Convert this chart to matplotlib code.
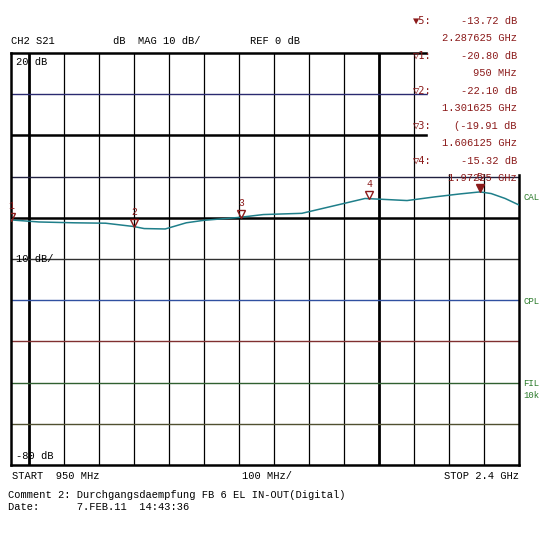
import matplotlib.pyplot as plt

freq_mhz = [950, 1030, 1130, 1220, 1300, 1330, 1390, 1450, 1500, 1600, 1670,
            1780, 1860, 1960, 2010, 2080, 2160, 2230, 2288, 2320, 2360, 2400]
s21_db = [-20.5, -21.0, -21.2, -21.3, -22.1, -22.6, -22.7, -21.2, -20.6, -19.9, -19.2,
          -18.9, -17.3, -15.3, -15.5, -15.8, -14.9, -14.2, -13.7, -14.1, -15.3, -16.9]

marker_freq = [950, 1301.625, 1606.125, 1972.25, 2287.625]
marker_db = [-20.80, -22.10, -19.91, -15.32, -13.72]
marker_names = ['1', '2', '3', '4', '5']

vgrid = [1000, 1100, 1200, 1300, 1400, 1500, 1600, 1700, 1800, 1900, 2000, 2100, 2200, 2300]
hgrid = [10, 0, -10, -20, -30, -40, -50, -60, -70]
hcolors = ['#2a2a70', 'black', '#202040', 'black', '#303030', '#3050a0', '#803030', '#306030', '#505030']

mono = 'Liberation Mono'
red = '#8b1a1a'

fig = plt.figure(figsize=(5.5, 5.5), dpi=100)
ax = fig.add_axes([0.02, 0.1545, 0.924, 0.749])
ax.set_xlim(950, 2400)
ax.set_ylim(-80, 20)
ax.set_xticks([])
ax.set_yticks([])
for s in ax.spines.values():
    s.set_linewidth(1.8)

for f in vgrid:
    lw = 2.0 if f in (1000, 2000) else 0.9
    ax.axvline(f, color='black', lw=lw, zorder=1)
for v, c in zip(hgrid, hcolors):
    lw = 1.8 if v in (0, -20) else 1.0
    ax.axhline(v, color=c, lw=lw, zorder=1)

ax.plot(freq_mhz, s21_db, color='#1f7f8a', lw=1.1, zorder=3)

for f, d, n in zip(marker_freq, marker_db, marker_names):
    filled = n == '5'
    ax.plot(f, d + 0.9, marker='v', ms=6, mfc=red if filled else 'none', mec=red, mew=1, zorder=6)
    ax.text(f, d + 2.4, n, color=red, fontsize=7, ha='center', va='bottom', family=mono, zorder=6)

ax.text(965, 19, '20 dB', fontsize=7.5, family=mono, va='top', zorder=5)
ax.text(965, -30, '10 dB/', fontsize=7.5, family=mono, va='center', zorder=5)
ax.text(965, -79, '-80 dB', fontsize=7.5, family=mono, va='bottom', zorder=5)

# marker readout box, covers grid and frame in the top right corner
ax.add_patch(plt.Rectangle((2140, -9.0), 265, 29.5, color='white', zorder=4, clip_on=False))
lines = [('\u25BC5:', '-13.72 dB'), ('', '2.287625 GHz'), ('\u25BD1:', '-20.80 dB'),
         ('', '950 MHz'), ('\u25BD2:', '-22.10 dB'), ('', '1.301625 GHz'),
         ('\u25BD3:', '(-19.91 dB'), ('', '1.606125 GHz'), ('\u25BD4:', '-15.32 dB'),
         ('', '1.97225 GHz')]
for i, (a, b) in enumerate(lines):
    y = 0.962 - i * 0.0318
    fig.text(0.75, y, a, fontsize=7.5, family=['DejaVu Sans Mono'], color=red, va='center', zorder=7)
    fig.text(0.94, y, b, fontsize=7.5, family=mono, color=red, va='center', ha='right', zorder=7)

fig.text(0.02, 0.925, 'CH2 S21', fontsize=7.5, family=mono, va='center')
fig.text(0.205, 0.925, 'dB  MAG 10 dB/', fontsize=7.5, family=mono, va='center')
fig.text(0.455, 0.925, 'REF 0 dB', fontsize=7.5, family=mono, va='center')

fig.text(0.952, 0.641, 'CAL', fontsize=6.5, family=mono, color='#2a7a2a', va='center')
fig.text(0.952, 0.452, 'CPL', fontsize=6.5, family=mono, color='#2a7a2a', va='center')
fig.text(0.952, 0.302, 'FIL', fontsize=6.5, family=mono, color='#2a7a2a', va='center')
fig.text(0.952, 0.280, '10k', fontsize=6.5, family=mono, color='#2a7a2a', va='center')

fig.text(0.022, 0.134, 'START  950 MHz', fontsize=7.5, family=mono, va='center')
fig.text(0.44, 0.134, '100 MHz/', fontsize=7.5, family=mono, va='center')
fig.text(0.944, 0.134, 'STOP 2.4 GHz', fontsize=7.5, family=mono, va='center', ha='right')
fig.text(0.015, 0.1, 'Comment 2: Durchgangsdaempfung FB 6 EL IN-OUT(Digital)', fontsize=7.5, family=mono, va='center')
fig.text(0.015, 0.078, 'Date:      7.FEB.11  14:43:36', fontsize=7.5, family=mono, va='center')

fig.savefig('out.png', dpi=100)
